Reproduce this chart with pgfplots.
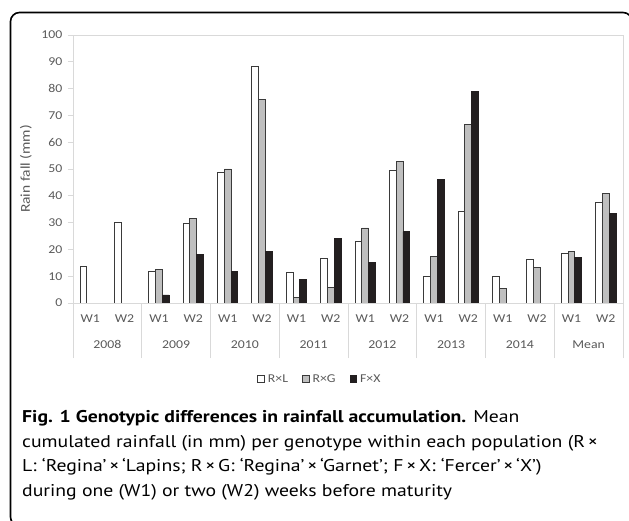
\documentclass[border=0pt]{standalone}
\usepackage{fontspec}
\setmainfont{Carlito}[FakeStretch=1.15]
\newfontfamily\capfont{PT Sans}[FakeStretch=1.16]
\usepackage{pgfplots}
\pgfplotsset{compat=1.18}
\definecolor{axgray}{HTML}{D9D9D9}
\definecolor{txtgray}{HTML}{595959}
\definecolor{bardark}{HTML}{3A3A3A}
\definecolor{fillgray}{HTML}{BFBFBF}
\definecolor{fillblack}{HTML}{231F20}
\newcommand\capsize{\capfont\fontsize{17bp}{21bp}\selectfont}
\begin{document}
\begin{tikzpicture}
\path[use as bounding box] (0bp,0bp) rectangle (629bp,521bp);
\draw[line width=1.6bp, rounded corners=9bp] (10.5bp,-5bp) -- (10.5bp,508.5bp) -- (632bp,508.5bp) -- (632bp,-5bp) -- cycle;
\begin{axis}[
  at={(73bp,218bp)}, anchor=south west,
  scale only axis, width=550bp, height=268bp,
  /pgf/number format/assume math mode=true,
  ybar=0pt, bar width=6.8bp,
  xmin=-0.5, xmax=15.5, ymin=0, ymax=100,
  xtick={0,...,15},
  xticklabels={W1,W2,W1,W2,W1,W2,W1,W2,W1,W2,W1,W2,W1,W2,W1,W2},
  extra x ticks={0.5,2.5,4.5,6.5,8.5,10.5,12.5,14.5},
  extra x tick labels={2008,2009,2010,2011,2012,2013,2014,Mean},
  extra x tick style={xticklabel style={yshift=-26bp}},
  minor xtick={-0.5,1.5,...,15.5},
  ytick={0,10,...,100},
  xtick pos=bottom, ytick pos=left,
  tick align=outside, major tick length=5bp, minor tick length=55bp,
  major x tick style={draw=none},
  minor x tick style={draw=axgray, line width=0.8bp},
  major y tick style={draw=axgray, line width=0.8bp},
  axis line style={draw=axgray, line width=0.8bp},
  tick label style={text=txtgray, font=\fontsize{12bp}{14bp}\selectfont},
  yticklabel style={xshift=-2bp},
  xticklabel style={yshift=-3bp},
  ylabel={Rain fall (mm)},
  every axis y label/.style={at={(axis description cs:-0.0855,0.5)}, rotate=90, anchor=center,
     font=\fontsize{13.5bp}{16bp}\selectfont, text=txtgray},
  legend columns=3,
  legend style={at={(0.449,-0.2836)}, anchor=center, draw=none, fill=none,
    font=\fontsize{12bp}{14bp}\selectfont, text=txtgray,
    /tikz/every odd column/.append style={column sep=1bp},
    /tikz/every even column/.append style={column sep=12bp}},
  legend image code/.code={\draw[#1, line width=0.9bp] (0bp,-3.3bp) rectangle (6.6bp,3.3bp);},
]
\addplot[draw=bardark, fill=white, line width=0.9bp] coordinates {
(0,13.6) (1,29.9) (2,11.9) (3,29.8) (4,48.8) (5,88.1) (6,11.5) (7,16.6)
(8,22.8) (9,49.6) (10,10.0) (11,34.2) (12,9.9) (13,16.1) (14,18.4) (15,37.7)};
\addlegendentry{R×L}
\addplot[draw=bardark, fill=fillgray, line width=0.9bp] coordinates {
(2,12.5) (3,31.4) (4,50.0) (5,75.8) (6,2.2) (7,5.7)
(8,28.0) (9,52.7) (10,17.2) (11,66.6) (12,5.3) (13,13.3) (14,19.2) (15,40.9)};
\addlegendentry{R×G}
\addplot[draw=fillblack, fill=fillblack, line width=0.9bp] coordinates {
(2,3.0) (3,18.1) (4,11.9) (5,19.2) (6,8.6) (7,24.1)
(8,15.0) (9,26.6) (10,46.0) (11,78.9) (14,16.9) (15,33.5)};
\addlegendentry{F×X}
\end{axis}
\node[anchor=base west, inner sep=0pt] at (22bp,98bp) {\capsize\textbf{Fig. 1 Genotypic differences in rainfall accumulation.} Mean};
\node[anchor=base west, inner sep=0pt] at (22bp,73.5bp) {\capsize cumulated rainfall (in mm) per genotype within each population (R\,×};
\node[anchor=base west, inner sep=0pt] at (22bp,49bp) {\capsize L: ‘Regina’\,×\,‘Lapins; R\,×\,G: ‘Regina’\,×\,‘Garnet’; F\,×\,X: ‘Fercer’\,×\,‘X’)};
\node[anchor=base west, inner sep=0pt] at (22bp,24.5bp) {\capsize during one (W1) or two (W2) weeks before maturity};
\end{tikzpicture}
\end{document}
